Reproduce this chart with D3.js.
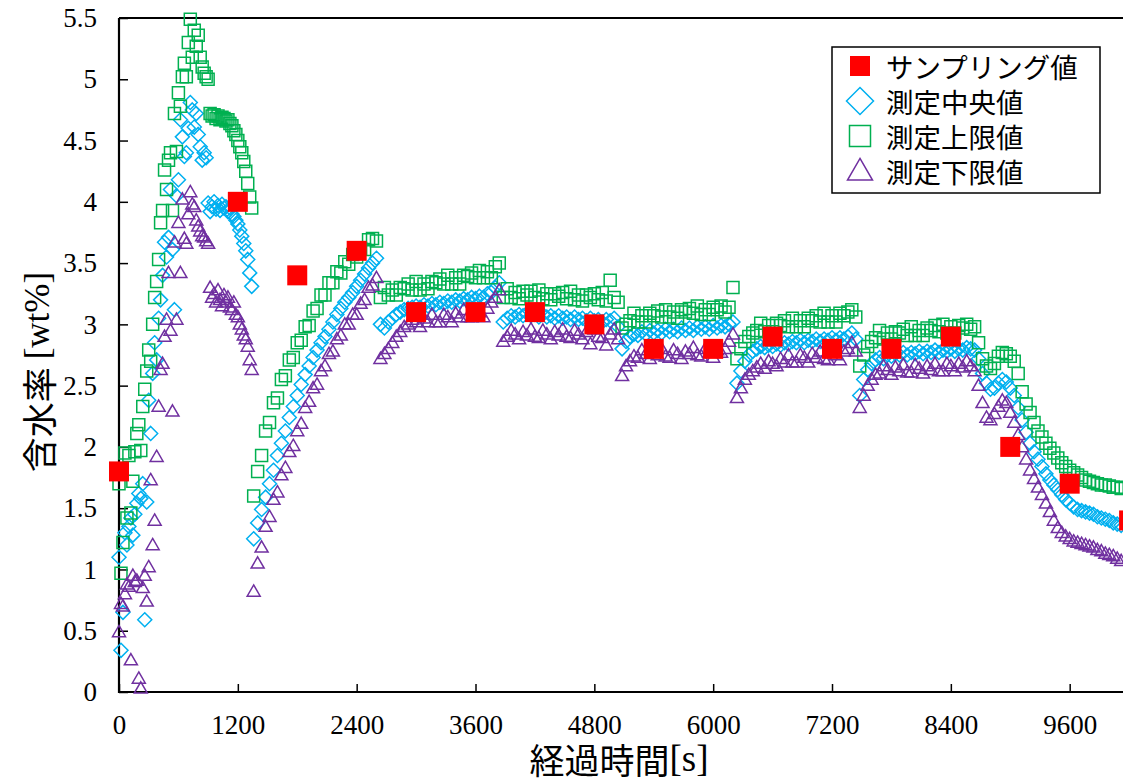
<!DOCTYPE html>
<html>
<head>
<meta charset="utf-8">
<script src="https://cdn.jsdelivr.net/npm/d3@7"></script>
<style>
  html, body { margin: 0; padding: 0; background: #fff; }
  svg { display: block; }
</style>
</head>
<body>
<svg id="chart" width="1123" height="778"></svg>
<script>
// Elapsed time [s] of each measurement
const times = [
  0,20,40,60,80,100,120,140,160,180,
  200,220,240,260,280,300,320,340,360,380,
  400,420,440,460,480,500,520,540,560,580,
  600,620,640,660,680,700,720,740,760,780,
  800,820,840,860,880,900,920,940,960,980,
  1000,1020,1040,1060,1080,1100,1120,1140,1160,1180,
  1200,1220,1240,1260,1280,1300,1320,1340,
  1360,1400,1440,1480,1520,1560,1600,1640,1680,1720,
  1760,1800,1840,1880,1920,1960,2000,2040,2080,2120,
  2160,2200,2240,2280,2320,2360,2400,2440,2480,2520,
  2560,2600,
  2640,2680,2720,2760,2800,2840,2880,2920,2960,3000,
  3040,3080,3120,3160,3200,3240,3280,3320,3360,3400,
  3440,3480,3520,3560,3600,3640,3680,3720,3760,3800,
  3840,
  3880,3920,3960,4000,4040,4080,4120,4160,4200,4240,
  4280,4320,4360,4400,4440,4480,4520,4560,4600,4640,
  4680,4720,4760,4800,4840,4880,4920,4960,5000,5040,
  5080,5120,5160,5200,5240,5280,5320,5360,5400,5440,
  5480,5520,5560,5600,5640,5680,5720,5760,5800,5840,
  5880,5920,5960,6000,6040,6080,6120,6160,6200,
  6240,6280,6320,6360,6400,6440,6480,6520,6560,6600,
  6640,6680,6720,6760,6800,6840,6880,6920,6960,7000,
  7040,7080,7120,7160,7200,7240,7280,7320,7360,7400,
  7440,
  7480,7520,7560,7600,7640,7680,7720,7760,7800,7840,
  7880,7920,7960,8000,8040,8080,8120,8160,8200,8240,
  8280,8320,8360,8400,8440,8480,8520,8560,8600,8640,
  8680,8720,8760,8800,8840,8880,8920,8960,9000,9040,
  9080,9120,9160,9200,9240,9280,9320,9360,9400,9440,
  9480,9520,9560,9600,9640,9680,9720,9760,9800,9840,
  9880,9920,9960,10000,10040,10080,10120
];

// 測定上限値 [wt%]
const upperValues = [
  1.70,0.97,1.22,1.95,1.42,1.93,1.46,1.72,1.96,2.11,
  2.18,1.97,2.33,2.47,2.62,2.79,2.70,3.00,3.22,3.35,
  3.53,3.83,3.93,4.26,4.10,4.34,4.40,3.93,4.72,4.41,
  4.89,4.78,5.02,5.13,5.02,5.30,5.49,5.18,5.40,5.27,
  5.36,5.18,5.10,5.05,5.02,5.00,4.72,4.70,4.71,4.68,
  4.70,4.67,4.69,4.68,4.66,4.67,4.64,4.62,4.58,4.55,
  4.50,4.45,4.40,4.33,4.25,4.15,4.04,3.95,
  1.60,1.80,1.93,2.13,2.20,2.36,2.40,2.55,2.58,2.71,
  2.73,2.85,2.87,2.98,2.99,3.11,3.13,3.24,3.24,3.34,
  3.34,3.43,3.42,3.51,3.49,3.57,3.55,3.62,3.61,3.69,
  3.70,3.68,
  3.22,3.30,3.24,3.28,3.24,3.30,3.29,3.33,3.28,3.35,
  3.28,3.33,3.29,3.35,3.34,3.37,3.33,3.40,3.33,3.38,
  3.33,3.40,3.39,3.42,3.38,3.44,3.38,3.43,3.38,3.47,
  3.50,
  3.22,3.29,3.22,3.26,3.21,3.27,3.24,3.27,3.22,3.28,
  3.21,3.25,3.20,3.25,3.23,3.26,3.21,3.27,3.20,3.24,
  3.19,3.24,3.22,3.25,3.20,3.26,3.19,3.36,3.22,3.18,
  2.97,3.00,3.03,3.09,3.02,3.07,3.02,3.09,3.07,3.11,
  3.06,3.12,3.06,3.10,3.05,3.12,3.10,3.13,3.09,3.15,
  3.08,3.12,3.08,3.14,3.12,3.15,3.10,3.14,3.30,
  2.72,2.80,2.86,2.90,2.93,2.95,3.01,2.94,2.99,2.94,
  3.01,2.99,3.03,2.98,3.05,2.98,3.03,2.98,3.05,3.03,
  3.07,3.02,3.09,3.02,3.07,3.02,3.09,3.07,3.10,3.12,
  3.06,
  2.66,2.75,2.82,2.86,2.89,2.95,2.88,2.93,2.88,2.94,
  2.93,2.96,2.91,2.98,2.91,2.95,2.91,2.97,2.95,2.99,
  2.94,3.00,2.93,2.98,2.93,2.99,2.97,3.00,2.96,2.98,
  2.85,2.72,2.66,2.64,2.68,2.74,2.77,2.76,2.74,2.70,
  2.60,2.45,2.35,2.28,2.20,2.13,2.08,2.03,1.99,1.95,
  1.91,1.87,1.84,1.81,1.79,1.77,1.75,1.73,1.72,1.71,
  1.70,1.69,1.69,1.68,1.67,1.67,1.66
];

// 測定中央値 [wt%]
const centerValues = [
  1.10,0.34,0.65,1.30,1.20,1.35,1.42,1.28,1.45,1.54,
  1.62,1.58,1.70,0.59,1.55,2.38,2.11,2.60,2.85,2.71,
  3.05,3.20,3.40,3.67,3.55,3.71,4.10,3.61,3.12,4.05,
  4.18,4.67,4.53,4.37,4.40,4.60,4.81,4.75,4.61,4.72,
  4.55,4.45,4.34,4.40,4.36,3.99,3.92,3.96,4.00,3.94,
  3.97,3.93,3.98,3.95,3.96,3.92,3.95,3.90,3.88,3.85,
  3.82,3.77,3.72,3.66,3.60,3.53,3.42,3.31,
  1.25,1.38,1.49,1.59,1.70,1.81,1.93,2.03,2.13,2.24,
  2.33,2.42,2.51,2.59,2.66,2.73,2.79,2.85,2.90,2.96,
  3.02,3.08,3.13,3.18,3.22,3.26,3.31,3.36,3.41,3.46,
  3.50,3.54,
  3.00,2.97,3.02,3.05,3.08,3.10,3.12,3.13,3.14,3.15,
  3.14,3.16,3.15,3.17,3.16,3.18,3.17,3.19,3.18,3.20,
  3.19,3.21,3.20,3.22,3.21,3.23,3.22,3.25,3.26,3.30,
  3.34,
  3.02,3.05,3.07,3.06,3.08,3.07,3.09,3.07,3.08,3.06,
  3.08,3.06,3.07,3.05,3.07,3.05,3.06,3.04,3.06,3.04,
  3.05,3.03,3.05,3.03,3.04,3.02,3.04,3.03,3.05,2.98,
  2.80,2.86,2.90,2.92,2.91,2.94,2.92,2.95,2.93,2.95,
  2.93,2.96,2.94,2.96,2.94,2.97,2.95,2.97,2.95,2.98,
  2.96,2.98,2.96,2.99,2.97,2.99,2.98,3.00,3.02,
  2.52,2.62,2.70,2.75,2.78,2.80,2.82,2.81,2.83,2.82,
  2.84,2.83,2.85,2.84,2.86,2.85,2.87,2.85,2.87,2.86,
  2.88,2.86,2.88,2.87,2.89,2.87,2.89,2.88,2.90,2.93,
  2.88,
  2.42,2.55,2.63,2.68,2.71,2.73,2.72,2.75,2.74,2.76,
  2.75,2.77,2.75,2.77,2.76,2.78,2.76,2.78,2.77,2.79,
  2.77,2.79,2.78,2.80,2.78,2.80,2.79,2.81,2.80,2.79,
  2.72,2.60,2.52,2.47,2.48,2.52,2.55,2.53,2.48,2.42,
  2.32,2.22,2.12,2.03,1.96,1.90,1.84,1.78,1.73,1.69,
  1.65,1.61,1.57,1.54,1.51,1.49,1.48,1.47,1.46,1.45,
  1.43,1.42,1.41,1.40,1.38,1.37,1.36
];

// 測定下限値 [wt%]
const lowerValues = [
  0.49,0.72,0.70,0.80,0.88,0.86,0.26,0.95,0.90,0.91,
  0.11,0.03,0.85,0.95,0.74,1.02,1.73,1.20,1.40,1.92,
  2.33,2.63,2.68,2.90,3.04,3.42,2.95,2.29,3.67,3.04,
  3.83,3.42,4.02,3.70,3.66,3.90,4.08,3.98,3.96,3.85,
  3.80,3.76,3.72,3.71,3.68,3.66,3.30,3.22,3.25,3.18,
  3.28,3.20,3.15,3.24,3.18,3.22,3.14,3.12,3.18,3.08,
  3.06,3.00,2.96,2.91,2.88,2.82,2.71,2.63,
  0.82,1.05,1.18,1.35,1.43,1.57,1.63,1.77,1.83,1.96,
  2.01,2.13,2.19,2.32,2.37,2.48,2.51,2.62,2.66,2.76,
  2.78,2.88,2.91,3.00,3.00,3.08,3.08,3.17,3.20,3.30,
  3.32,3.38,
  2.72,2.76,2.80,2.85,2.90,2.94,2.98,3.00,3.04,3.02,
  2.98,3.05,3.02,3.08,3.02,3.02,3.08,3.06,3.02,3.09,
  3.06,3.12,3.06,3.06,3.12,3.10,3.06,3.13,3.18,3.22,
  3.28,
  2.86,2.90,2.95,2.92,2.88,2.94,2.91,2.96,2.90,2.89,
  2.95,2.92,2.88,2.94,2.91,2.96,2.90,2.89,2.95,2.92,
  2.88,2.94,2.84,2.96,2.90,2.89,2.83,2.92,2.96,2.88,
  2.58,2.66,2.70,2.74,2.73,2.79,2.76,2.72,2.78,2.75,
  2.80,2.74,2.73,2.79,2.76,2.72,2.78,2.76,2.81,2.75,
  2.74,2.80,2.77,2.73,2.79,2.77,2.80,2.86,2.92,
  2.40,2.48,2.55,2.59,2.62,2.65,2.68,2.64,2.70,2.68,
  2.66,2.72,2.69,2.75,2.69,2.69,2.75,2.73,2.69,2.76,
  2.73,2.78,2.72,2.71,2.77,2.75,2.71,2.78,2.80,2.85,
  2.78,
  2.32,2.42,2.50,2.55,2.59,2.60,2.66,2.63,2.59,2.65,
  2.62,2.67,2.61,2.61,2.67,2.64,2.60,2.66,2.63,2.68,
  2.62,2.62,2.68,2.66,2.62,2.68,2.65,2.70,2.66,2.62,
  2.50,2.36,2.24,2.22,2.27,2.33,2.38,2.36,2.28,2.20,
  2.10,2.00,1.90,1.81,1.74,1.67,1.61,1.54,1.47,1.40,
  1.34,1.30,1.27,1.25,1.23,1.22,1.21,1.20,1.19,1.18,
  1.16,1.15,1.13,1.12,1.11,1.09,1.07
];

// サンプリング値 (laboratory samples)
const sampleTimes  = [0, 1200, 1800, 2400, 3000, 3600, 4200, 4800, 5400, 6000, 6600, 7200, 7800, 8400, 9000, 9600, 10200];
const sampleValues = [1.8, 4.0, 3.4, 3.6, 3.1, 3.1, 3.1, 3.0, 2.8, 2.8, 2.9, 2.8, 2.8, 2.9, 2.0, 1.7, 1.4];

const xTicks = [0, 1200, 2400, 3600, 4800, 6000, 7200, 8400, 9600];
const yTicks = [0, 0.5, 1, 1.5, 2, 2.5, 3, 3.5, 4, 4.5, 5, 5.5];
const legendLabels = ["サンプリング値", "測定中央値", "測定上限値", "測定下限値"];

const COLORS = { sample: "#FF0000", center: "#00B0F0", upper: "#00B050", lower: "#7030A0" };
const SERIF = "'Liberation Serif', 'Times New Roman', serif";
const CJK = "'Noto Sans CJK JP', 'Noto Sans', sans-serif";

const svg = d3.select("#chart");
const x = d3.scaleLinear().domain([0, 10200]).range([119, 1129.1]);
const y = d3.scaleLinear().domain([0, 5.5]).range([692, 18]);

// marker outlines centred on the origin
const shape = {
  square: s => `M${-s / 2},${-s / 2}h${s}v${s}h${-s}Z`,
  diamond: s => `M0,${-s / 2}L${s / 2},0L0,${s / 2}L${-s / 2},0Z`,
  triangle: s => {
    const h = s * 0.866;
    return `M0,${-h * 0.58}L${s / 2},${h * 0.42}L${-s / 2},${h * 0.42}Z`;
  }
};

// axes (ticks point into the plot)
const xAxis = d3.axisBottom(x).tickValues(xTicks).tickSizeInner(-8).tickSizeOuter(0).tickPadding(23)
  .tickFormat(d => String(d));
const yAxis = d3.axisLeft(y).tickValues(yTicks).tickSizeInner(-9).tickSizeOuter(0).tickPadding(22)
  .tickFormat(d => String(d));

const gx = svg.append("g").attr("transform", "translate(0,692)").call(xAxis);
const gy = svg.append("g").attr("transform", "translate(119,0)").call(yAxis);
[gx, gy].forEach(g => {
  g.select(".domain").attr("stroke", "#000").attr("stroke-width", 2.2);
  g.selectAll(".tick line").attr("stroke", "#000").attr("stroke-width", 1.5);
  g.selectAll(".tick text").attr("fill", "#000").style("font-family", SERIF).style("font-size", "27px");
});
gx.select(".domain").attr("d", `M${x(0)},0H1130`);
gy.select(".domain").attr("d", `M0,${y(0) + 1}V${y(5.5)}`);

// top frame line
svg.append("line")
  .attr("x1", x(0)).attr("x2", 1130).attr("y1", y(5.5)).attr("y2", y(5.5))
  .attr("stroke", "#000").attr("stroke-width", 2);

// measurement series
function drawSeries(values, path, color) {
  svg.append("g")
    .selectAll("path")
    .data(times.map((t, i) => [t, values[i]]))
    .join("path")
    .attr("transform", d => `translate(${x(d[0])},${y(d[1])})`)
    .attr("d", path)
    .attr("fill", "none")
    .attr("stroke", color)
    .attr("stroke-width", 1.5);
}
drawSeries(centerValues, shape.diamond(14), COLORS.center);
drawSeries(upperValues, shape.square(12), COLORS.upper);
drawSeries(lowerValues, shape.triangle(13), COLORS.lower);

// sampled values
svg.append("g")
  .selectAll("path")
  .data(sampleTimes.map((t, i) => [t, sampleValues[i]]))
  .join("path")
  .attr("transform", d => `translate(${x(d[0])},${y(d[1])})`)
  .attr("d", shape.square(20))
  .attr("fill", COLORS.sample);

// axis titles
const yTitle = svg.append("text")
  .attr("transform", "translate(37,372) rotate(-90)")
  .attr("text-anchor", "middle")
  .attr("dominant-baseline", "central")
  .attr("fill", "#000")
  .style("font-size", "35px");
yTitle.append("tspan").style("font-family", CJK).text("含水率 ");
yTitle.append("tspan").style("font-family", SERIF).text("[wt%]");

const xTitle = svg.append("text")
  .attr("x", 619).attr("y", 758)
  .attr("text-anchor", "middle")
  .attr("dominant-baseline", "central")
  .attr("fill", "#000")
  .style("font-size", "35px");
xTitle.append("tspan").style("font-family", CJK).text("経過時間");
xTitle.append("tspan").style("font-family", SERIF).style("font-size", "37px").text("[s]");

// legend
const legend = svg.append("g");
legend.append("rect")
  .attr("x", 832).attr("y", 47).attr("width", 268).attr("height", 146)
  .attr("fill", "#fff").attr("stroke", "#000").attr("stroke-width", 1.5);
const legendItems = [
  { d: shape.square(20), fill: COLORS.sample, stroke: "none" },
  { d: shape.diamond(27), fill: "none", stroke: COLORS.center },
  { d: shape.square(21), fill: "none", stroke: COLORS.upper },
  { d: shape.triangle(25), fill: "none", stroke: COLORS.lower }
];
legendItems.forEach((item, i) => {
  const cy = 66 + i * 35;
  legend.append("path")
    .attr("transform", `translate(860,${cy})`)
    .attr("d", item.d)
    .attr("fill", item.fill)
    .attr("stroke", item.stroke)
    .attr("stroke-width", 1.5);
  legend.append("text")
    .attr("x", 886).attr("y", cy)
    .attr("dominant-baseline", "central")
    .attr("fill", "#000")
    .style("font-family", CJK)
    .style("font-size", "27.5px")
    .text(legendLabels[i]);
});
</script>
</body>
</html>
